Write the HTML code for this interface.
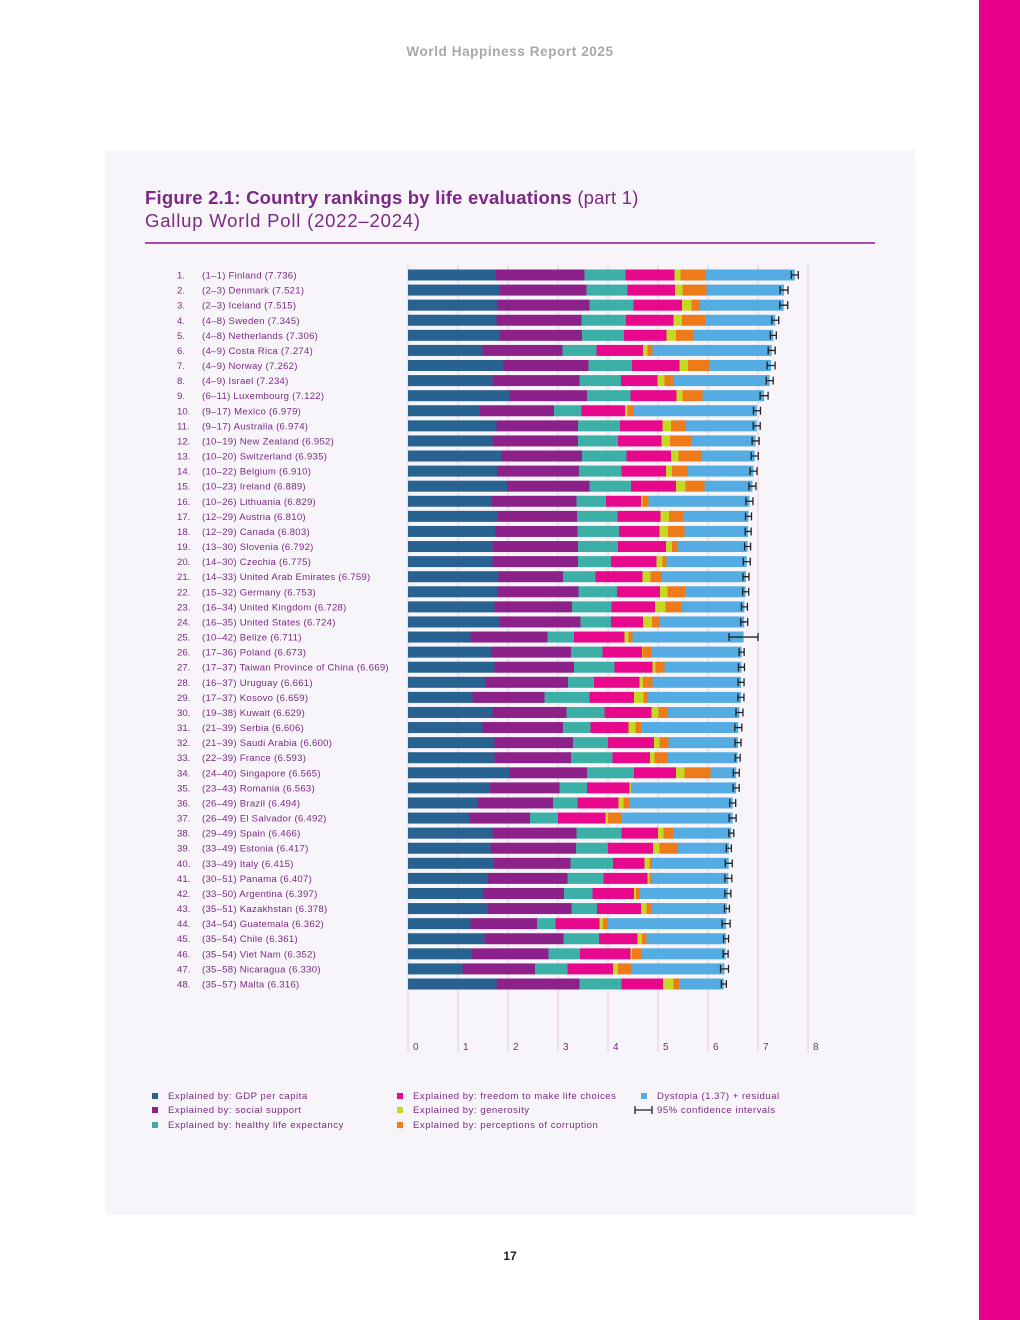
<!DOCTYPE html>
<html><head><meta charset="utf-8"><style>
body{margin:0;width:1020px;height:1320px;background:#fff;position:relative;font-family:"Liberation Sans",sans-serif;overflow:hidden}
.abs{position:absolute}
</style></head><body>
<div class="abs" style="left:0;width:1020px;top:44px;text-align:center;color:#a8a8a8;font-weight:bold;font-size:13.5px;letter-spacing:0.6px">World Happiness Report 2025</div>
<div class="abs" style="left:979px;top:0;width:41px;height:1320px;background:#e8008a"></div>
<div class="abs" style="left:105px;top:150px;width:810px;height:1065px;background:#f8f5fa"></div>
<div class="abs" style="left:145px;top:187px;color:#7b2a84;font-size:18.5px;letter-spacing:0.2px"><b>Figure 2.1: Country rankings by life evaluations</b> (part 1)</div>
<div class="abs" style="left:145px;top:210px;color:#7b2a84;font-size:18.5px;letter-spacing:0.8px">Gallup World Poll (2022–2024)</div>
<div class="abs" style="left:145px;top:242px;width:730px;height:2px;background:#b04aa8"></div>
<div class="abs" style="left:0;width:1020px;top:1249px;text-align:center;font-weight:bold;font-size:12px;color:#222">17</div>
<svg class="abs" style="left:0;top:0" width="1020" height="1320" id="chart"></svg>
<script>
const countries=["(1–1) Finland (7.736)","(2–3) Denmark (7.521)","(2–3) Iceland (7.515)","(4–8) Sweden (7.345)","(4–8) Netherlands (7.306)","(4–9) Costa Rica (7.274)","(4–9) Norway (7.262)","(4–9) Israel (7.234)","(6–11) Luxembourg (7.122)","(9–17) Mexico (6.979)","(9–17) Australia (6.974)","(10–19) New Zealand (6.952)","(10–20) Switzerland (6.935)","(10–22) Belgium (6.910)","(10–23) Ireland (6.889)","(10–26) Lithuania (6.829)","(12–29) Austria (6.810)","(12–29) Canada (6.803)","(13–30) Slovenia (6.792)","(14–30) Czechia (6.775)","(14–33) United Arab Emirates (6.759)","(15–32) Germany (6.753)","(16–34) United Kingdom (6.728)","(16–35) United States (6.724)","(10–42) Belize (6.711)","(17–36) Poland (6.673)","(17–37) Taiwan Province of China (6.669)","(16–37) Uruguay (6.661)","(17–37) Kosovo (6.659)","(19–38) Kuwait (6.629)","(21–39) Serbia (6.606)","(21–39) Saudi Arabia (6.600)","(22–39) France (6.593)","(24–40) Singapore (6.565)","(23–43) Romania (6.563)","(26–49) Brazil (6.494)","(26–49) El Salvador (6.492)","(29–49) Spain (6.466)","(33–49) Estonia (6.417)","(33–49) Italy (6.415)","(30–51) Panama (6.407)","(33–50) Argentina (6.397)","(35–51) Kazakhstan (6.378)","(34–54) Guatemala (6.362)","(35–54) Chile (6.361)","(35–54) Viet Nam (6.352)","(35–58) Nicaragua (6.330)","(35–57) Malta (6.316)"];
const scores=[7.736,7.521,7.515,7.345,7.306,7.274,7.262,7.234,7.122,6.979,6.974,6.952,6.935,6.910,6.889,6.829,6.810,6.803,6.792,6.775,6.759,6.753,6.728,6.724,6.711,6.673,6.669,6.661,6.659,6.629,6.606,6.600,6.593,6.565,6.563,6.494,6.492,6.466,6.417,6.415,6.407,6.397,6.378,6.362,6.361,6.352,6.330,6.316];
const gdp=[1.75,1.83,1.79,1.77,1.83,1.49,1.90,1.69,2.02,1.43,1.77,1.69,1.87,1.78,1.98,1.68,1.79,1.74,1.69,1.69,1.81,1.78,1.73,1.84,1.25,1.67,1.73,1.55,1.29,1.69,1.49,1.73,1.73,2.02,1.64,1.39,1.22,1.69,1.65,1.72,1.60,1.50,1.59,1.25,1.53,1.28,1.09,1.77];
const social=[1.78,1.74,1.84,1.70,1.65,1.60,1.71,1.74,1.56,1.49,1.63,1.71,1.61,1.64,1.65,1.69,1.59,1.65,1.71,1.71,1.29,1.63,1.55,1.61,1.54,1.59,1.59,1.65,1.44,1.48,1.61,1.57,1.53,1.56,1.39,1.51,1.22,1.68,1.71,1.53,1.59,1.62,1.68,1.33,1.58,1.53,1.45,1.66];
const health=[0.82,0.82,0.88,0.89,0.84,0.68,0.87,0.83,0.87,0.55,0.84,0.80,0.89,0.85,0.83,0.59,0.81,0.83,0.80,0.66,0.65,0.77,0.79,0.61,0.53,0.63,0.81,0.52,0.90,0.76,0.55,0.70,0.83,0.94,0.55,0.49,0.56,0.90,0.64,0.85,0.72,0.57,0.51,0.37,0.71,0.63,0.65,0.84];
const freedom=[0.98,0.95,0.97,0.95,0.85,0.93,0.95,0.73,0.92,0.87,0.85,0.87,0.89,0.89,0.90,0.70,0.86,0.81,0.96,0.91,0.94,0.86,0.87,0.64,1.01,0.79,0.76,0.91,0.89,0.94,0.76,0.92,0.75,0.84,0.85,0.82,0.95,0.73,0.90,0.63,0.88,0.83,0.88,0.88,0.77,1.01,0.91,0.83];
const generosity=[0.12,0.15,0.19,0.17,0.19,0.09,0.17,0.14,0.12,0.05,0.17,0.17,0.15,0.12,0.19,0.03,0.17,0.17,0.12,0.12,0.16,0.15,0.21,0.18,0.08,0.01,0.06,0.07,0.19,0.14,0.14,0.11,0.09,0.17,0.03,0.10,0.05,0.11,0.13,0.10,0.04,0.04,0.11,0.07,0.09,0.03,0.10,0.21];
const corruption=[0.49,0.48,0.17,0.46,0.35,0.10,0.42,0.19,0.40,0.13,0.29,0.42,0.47,0.31,0.38,0.12,0.28,0.33,0.11,0.08,0.23,0.35,0.31,0.15,0.08,0.17,0.18,0.19,0.09,0.17,0.11,0.18,0.26,0.52,0.01,0.12,0.27,0.19,0.37,0.05,0.03,0.08,0.11,0.09,0.09,0.18,0.27,0.11];
const ciHalf=[0.07,0.08,0.08,0.07,0.06,0.07,0.08,0.07,0.08,0.07,0.07,0.07,0.07,0.07,0.07,0.07,0.06,0.06,0.06,0.07,0.06,0.06,0.06,0.07,0.29,0.05,0.06,0.06,0.06,0.07,0.07,0.06,0.05,0.06,0.06,0.06,0.07,0.05,0.05,0.07,0.07,0.06,0.05,0.08,0.05,0.05,0.08,0.05];
const ticks=[0,1,2,3,4,5,6,7,8];
const colors=["#276291","#8c2289","#3cb0a7","#e8088c","#c3d924","#ef7a1a","#54ace2"];
const legendLabels=["Explained by: GDP per capita","Explained by: social support","Explained by: healthy life expectancy","Explained by: freedom to make life choices","Explained by: generosity","Explained by: perceptions of corruption","Dystopia (1.37) + residual","95% confidence intervals"];

const NS="http://www.w3.org/2000/svg";
const svg=document.getElementById('chart');
const x0=408,unit=50,y0=275,step=15.085,bh=11;
const xs=v=>x0+v*unit;
const ys=i=>y0+i*step;
function mk(tag,attrs,parent){const e=document.createElementNS(NS,tag);for(const k in attrs)e.setAttribute(k,attrs[k]);(parent||svg).appendChild(e);return e;}
ticks.forEach(t=>{
  const g=mk('line',{x1:xs(t),x2:xs(t),y1:265,y2:1052,stroke:'#e6d3e3','stroke-width':1.2});
  
  
  const tx=mk('text',{x:xs(t)+5,y:1050,'font-size':10,fill:'#7b2a84','font-family':'Liberation Sans, sans-serif'});
  tx.textContent=t;
  
  
});
const seriesArr=[gdp,social,health,freedom,generosity,corruption];
const segNames=['gdp','social','health','freedom','generosity','corruption','dystopia'];
countries.forEach((c,i)=>{
  const yc=ys(i);
  const n=mk('text',{x:177,y:yc+3.5,'font-size':9.6,fill:'#7b2a84','font-family':'Liberation Sans, sans-serif'});
  n.textContent=(i+1)+'.';
  
  
  const l=mk('text',{x:202,y:yc+3.5,'font-size':9.6,fill:'#7b2a84','letter-spacing':0.25,'font-family':'Liberation Sans, sans-serif'});
  l.textContent=c;
  
  
  let acc=0;
  const vals=seriesArr.map(s=>s[i]);
  const rest=scores[i]-vals.reduce((a,b)=>a+b,0);
  vals.push(rest);
  vals.forEach((v,k)=>{
    const r=mk('rect',{x:xs(acc),y:yc-bh/2,width:Math.max(0,v*unit),height:bh,fill:colors[k]});
    
    
    acc+=v;
  });
  const lo=xs(scores[i]-ciHalf[i]),hi=xs(scores[i]+ciHalf[i]);
  const ci=mk('path',{d:`M${lo},${yc}H${hi}M${lo},${yc-4}V${yc+4}M${hi},${yc-4}V${yc+4}`,stroke:'#222','stroke-width':1.3,fill:'none'});
  
  
});
const legPos=[[152,1098],[152,1112],[152,1127],[397,1098],[397,1112],[397,1127],[641,1098],[641,1112]];
legendLabels.forEach((lab,k)=>{
  const [lx,ly]=legPos[k];
  if(k<7){
    const s=mk('rect',{x:lx,y:ly-5,width:6,height:6,fill:colors[k]});
    
    
  } else {
    const s=mk('path',{d:`M${lx-6},${ly-2}H${lx+11}M${lx-6},${ly-6}V${ly+2}M${lx+11},${ly-6}V${ly+2}`,stroke:'#222','stroke-width':1.3,fill:'none'});
    
    
  }
  const t=mk('text',{x:lx+16,y:ly+1,'font-size':9.6,fill:'#7b2a84','letter-spacing':0.5,'font-family':'Liberation Sans, sans-serif'});
  t.textContent=lab;
  
  
});
</script>
</body></html>
